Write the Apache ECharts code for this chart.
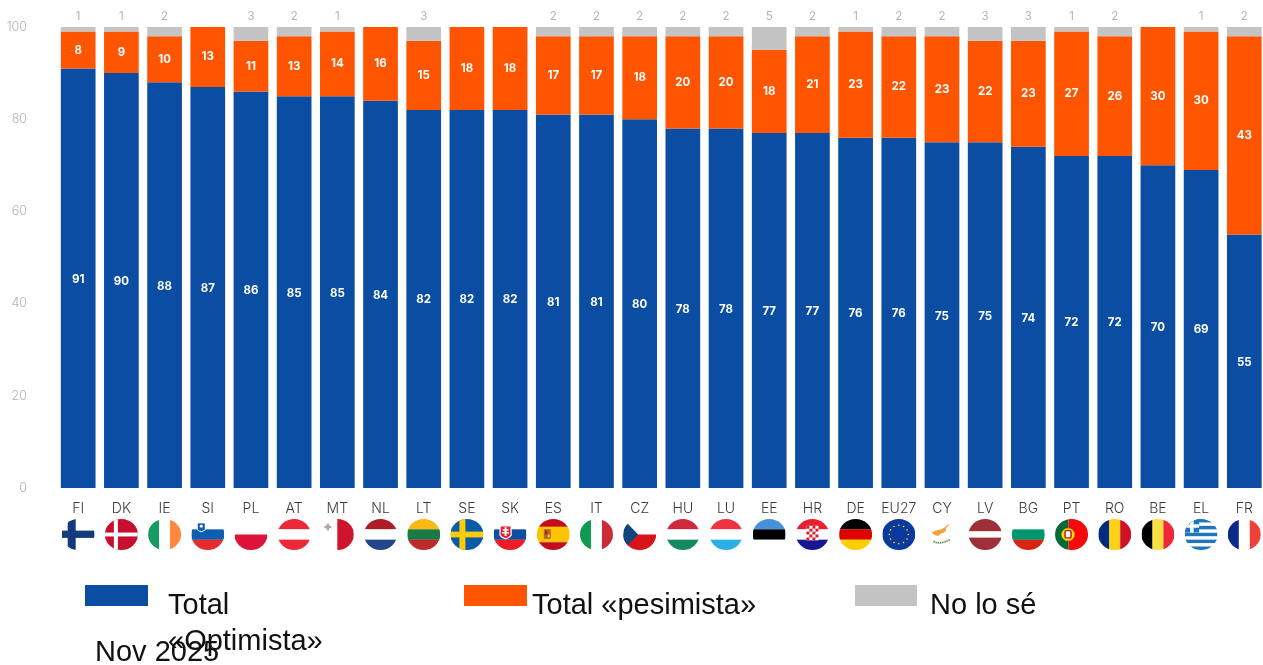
<!DOCTYPE html>
<html><head><meta charset="utf-8">
<style>html,body{margin:0;padding:0;background:#fff}#c{width:1263px;height:665px}</style>
<script src="https://cdn.jsdelivr.net/npm/echarts@6/dist/echarts.min.js"></script>
</head><body><div id="c"></div>
<script>
const categories=['FI','DK','IE','SI','PL','AT','MT','NL','LT','SE','SK','ES','IT','CZ','HU','LU','EE','HR','DE','EU27','CY','LV','BG','PT','RO','BE','EL','FR'];
const optimista=[91,90,88,87,86,85,85,84,82,82,82,81,81,80,78,78,77,77,76,76,75,75,74,72,72,70,69,55];
const pesimista=[8,9,10,13,11,13,14,16,15,18,18,17,17,18,20,20,18,21,23,22,23,22,23,27,26,30,30,43];
const noSe=[1,1,2,0,3,2,1,0,3,0,0,2,2,2,2,2,5,2,1,2,2,3,3,1,2,0,1,2];
const seriesNames=['Total «Optimista»','Total «pesimista»','No lo sé'];
const yearLabel='Nov 2025';

/* flag artwork, drawn in a 66x64 box and clipped to a disc */
const H=(cs,w)=>{w=w||cs.map(()=>1);const s=w.reduce((a,b)=>a+b,0);let y=0,o='';cs.forEach((c,i)=>{const h=64*w[i]/s;o+=`<rect x="0" y="${y}" width="66" height="${h+.3}" fill="${c}"/>`;y+=h});return o};
const V=(cs)=>{let o='';const n=cs.length;cs.forEach((c,i)=>{o+=`<rect x="${66*i/n}" y="0" width="${66/n+.3}" height="64" fill="${c}"/>`});return o};
const R=(x,y,w,h,c)=>`<rect x="${x}" y="${y}" width="${w}" height="${h}" fill="${c}"/>`;
const euStars=(()=>{let o='';for(const a of [0,30,60,90,120,150,180,210,240,270,300,330]){const t=a*Math.PI/180;o+=`<circle cx="${33+19*Math.cos(t)}" cy="${32+19*Math.sin(t)}" r="1.7" fill="#FFD617"/>`}return o})();
const grStripes=(()=>{let o=R(0,0,66,64,'#fff');for(let i=0;i<5;i++)o+=R(0,i*14.2,66,7.1,'#1F76BC');return o+R(0,0,29,28,'#1F76BC')+R(11,0,7,28,'#fff')+R(0,11,29,7,'#fff')})();
const hrChecks=(()=>{let o=R(21,14,24,30,'#fff');for(let r=0;r<5;r++)for(let c=0;c<4;c++)if((r+c)%2==0)o+=R(21+c*6,14+r*6,6,6,'#D3222F');return o})();
const flagArt={
FI:R(0,0,66,64,'#fff')+R(12,0,16,64,'#123A7C')+R(0,24,66,15,'#123A7C'),
DK:R(0,0,66,64,'#C8102E')+R(18,0,8,64,'#fff')+R(0,28,66,8,'#fff'),
IE:V(['#169B62','#ffffff','#FF883E']),
SI:H(['#ffffff','#0C5FAF','#E52B2B'])+`<path d="M12 8h16v14q-8 8-16 0z" fill="#0C5FAF" stroke="#fff" stroke-width="2"/><circle cx="20" cy="15" r="3" fill="#fff"/>`,
PL:H(['#ffffff','#DC143C']),
AT:H(['#ED2939','#ffffff','#ED2939']),
MT:V(['#ffffff','#CF142B'])+R(7,14,14,5,'#B9A3A8')+R(11.5,9.5,5,14,'#B9A3A8'),
NL:H(['#AE1C28','#ffffff','#21468B']),
LT:H(['#FDB913','#1A7A44','#BE2A2C']),
SE:R(0,0,66,64,'#0B5CA6')+R(18,0,12,64,'#FECC00')+R(0,26,66,12,'#FECC00'),
SK:H(['#ffffff','#0B4EA2','#EE1C25'])+`<path d="M13 14h22v20q-11 14-22 0z" fill="#EE1C25" stroke="#fff" stroke-width="2.5"/>`+R(22,17,4,18,'#fff')+R(18,21,12,3,'#fff')+R(17,27,14,3,'#fff'),
ES:H(['#C60B1E','#FFC400','#C60B1E'],[1,2,1])+R(14,21,14,20,'#AD6A2B')+R(17,24,4,8,'#C60B1E')+R(22,32,4,6,'#E8C24B'),
IT:V(['#0F9B52','#ffffff','#CE2B37']),
CZ:H(['#ffffff','#D7141A'])+`<path d="M0 0L30 32L0 64z" fill="#11457E"/>`,
HU:H(['#CD2A3E','#ffffff','#168A5F']),
LU:H(['#EF3340','#ffffff','#2BB0E5']),
EE:H(['#4891D9','#000000','#ffffff']),
HR:H(['#E8202E','#ffffff','#171796'])+hrChecks,
DE:H(['#000000','#DD0000','#FFCE00']),
EU27:R(0,0,66,64,'#0A3A9C')+euStars,
CY:R(0,0,66,64,'#fff')+`<path d="M12 28q10-6 20-7 8-4 17-13-3 7-8 11 1 6-6 10-6 2-10 6-8-1-13-7z" fill="#F2A33A"/><path d="M16 46q12 8 34-4" fill="none" stroke="#5E8A54" stroke-width="3.5" stroke-dasharray="3 1.5"/>`,
LV:H(['#9E3039','#ffffff','#9E3039'],[2,1,2]),
BG:H(['#ffffff','#00966E','#D62612']),
PT:R(0,0,27,64,'#046A38')+R(27,0,39,64,'#F40A0A')+`<circle cx="26" cy="32" r="13" fill="#FFE000" stroke="#D9B400"/><rect x="20" y="24" width="12" height="15" rx="3" fill="#fff" stroke="#C8102E" stroke-width="3"/>`,
RO:V(['#002B7F','#FCD116','#CE1126']),
BE:V(['#000000','#FAE042','#ED2939']),
EL:grStripes,
FR:V(['#0A2A8C','#ffffff','#EF4135'])
};
const flagUri=c=>'data:image/svg+xml;charset=utf-8,'+encodeURIComponent(`<svg xmlns="http://www.w3.org/2000/svg" width="132" height="128" viewBox="0 0 66 64"><defs><clipPath id="k"><ellipse cx="33" cy="32" rx="33" ry="32"/></clipPath></defs><g clip-path="url(#k)">${flagArt[c]}</g></svg>`);

const rich={code:{fontFamily:'Inter',fontWeight:300,fontSize:14,color:'#3a3a3a',lineHeight:20,height:20,align:'center'}};
categories.forEach((c,i)=>{rich['f'+i]={width:33,height:31,align:'center',backgroundColor:{image:flagUri(c)}}});

const labelBase={show:true,color:'#fff',fontFamily:'Inter',fontWeight:700,fontSize:11.5};
const legendText={fontFamily:'Liberation Sans',fontSize:29,color:'#111'};
const chart=echarts.init(document.getElementById('c'),null,{renderer:'canvas'});
chart.setOption({
animation:false,
backgroundColor:'#fff',
title:{text:yearLabel,left:95,top:638,padding:0,textStyle:{fontFamily:'Liberation Sans',fontWeight:'normal',fontSize:29,color:'#111'}},
grid:{left:56.6,top:27,width:1209.3,height:461,containLabel:false,outerBoundsMode:'none'},
legend:[
{data:[seriesNames[0]],left:85,top:585,padding:0,itemWidth:63,itemHeight:21,icon:'rect',
 formatter:()=>'{a|Total}\n{a|«Optimista»}',
 textStyle:{...legendText,padding:[57,0,0,15],rich:{a:{...legendText,lineHeight:36}}}},
{data:[seriesNames[1]],left:464,top:585,padding:0,itemWidth:63,itemHeight:21,icon:'rect',
 formatter:n=>`{a|${n}}`,
 textStyle:{...legendText,padding:[20,0,0,0],rich:{a:{...legendText,lineHeight:36}}}},
{data:[seriesNames[2]],left:855,top:585,padding:0,itemWidth:62,itemHeight:21,icon:'rect',
 formatter:n=>`{a|${n}}`,
 textStyle:{...legendText,padding:[20,0,0,8],rich:{a:{...legendText,lineHeight:36}}}}
],
xAxis:{type:'category',data:categories,axisLine:{show:false},axisTick:{show:false},
 axisLabel:{interval:0,margin:11,hideOverlap:false,rich,
  formatter:(v,i)=>`{code|${v}}\n{f${i}|}`}},
yAxis:{type:'value',min:0,max:100,interval:20,splitLine:{show:false},axisLine:{show:false},axisTick:{show:false},
 axisLabel:{margin:29.6,padding:[2,0,0,0],color:'#b5b1ab',fontFamily:'Inter',fontWeight:300,fontSize:12.5}},
series:[
{name:seriesNames[0],type:'bar',stack:'t',barWidth:34.7,data:optimista,itemStyle:{color:'#0B4DA2'},label:{...labelBase,position:'inside',offset:[0,1]}},
{name:seriesNames[1],type:'bar',stack:'t',barWidth:34.7,data:pesimista,itemStyle:{color:'#FF5500'},label:{...labelBase,position:'inside'}},
{name:seriesNames[2],type:'bar',stack:'t',barWidth:34.7,data:noSe,itemStyle:{color:'#C4C4C4'},
 label:{show:true,position:'top',distance:4,color:'#b9b5af',fontFamily:'Inter',fontWeight:400,fontSize:11.5,formatter:p=>p.value>0?String(p.value):''}}
]
});
</script></body></html>
